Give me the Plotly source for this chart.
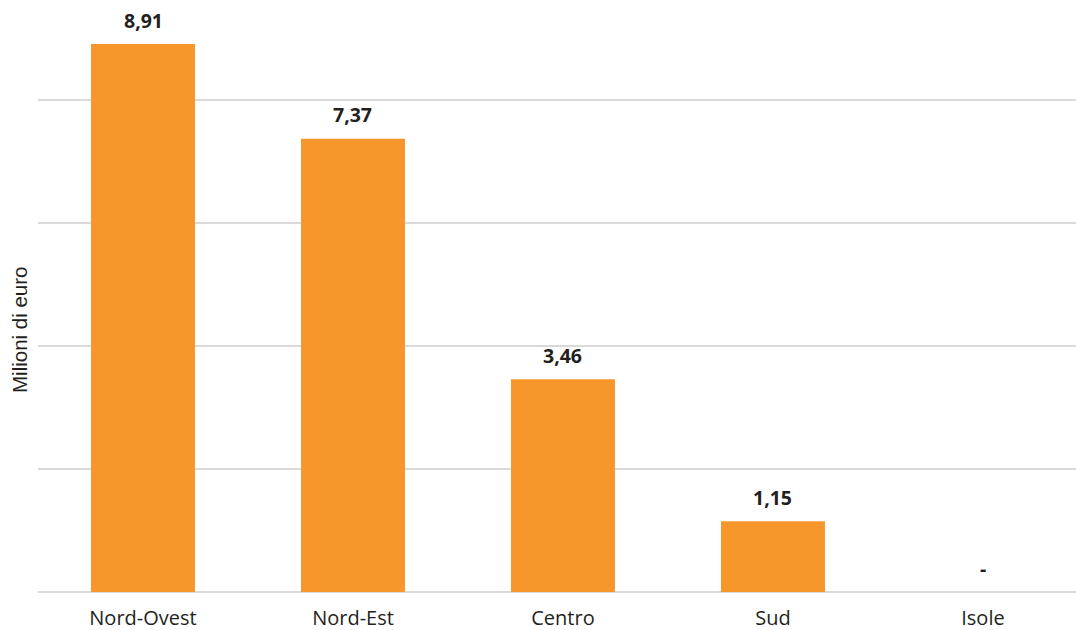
import plotly.graph_objects as go

categories = ["Nord-Ovest", "Nord-Est", "Centro", "Sud", "Isole"]
values = [8.91, 7.37, 3.46, 1.15, 0.0]
value_labels = ["8,91", "7,37", "3,46", "1,15", "-"]
y_title = "Milioni di euro"

BAR_COLOR = "#F7962A"
GRID_COLOR = "#D9D9D9"
TEXT_COLOR = "#231F20"
LABEL_SHIFT = 24

fig = go.Figure()
fig.add_trace(go.Bar(
    x=categories,
    y=values,
    marker=dict(color=BAR_COLOR, line=dict(width=0)),
    hoverinfo="skip",
))

for cat, val, lab in zip(categories, values, value_labels):
    fig.add_annotation(
        x=cat, y=val, text=lab, showarrow=False,
        yanchor="middle", yshift=LABEL_SHIFT,
        font=dict(family="Open Sans", size=19.5, color=TEXT_COLOR, weight="bold"),
    )

# y-axis title placed as a rotated annotation (centred lower than the plot middle)
fig.add_annotation(
    xref="paper", yref="paper", x=0, y=0.4426, xshift=-18,
    text=y_title, textangle=-90, showarrow=False,
    xanchor="center", yanchor="middle",
    font=dict(family="Liberation Sans", size=20.5, color=TEXT_COLOR),
)

fig.update_layout(
    width=1076, height=630,
    margin=dict(l=38, r=0, t=0, b=38),
    paper_bgcolor="white", plot_bgcolor="white",
    bargap=0.505,
    showlegend=False,
    xaxis=dict(
        range=[-0.5, 4.443],
        showgrid=False, showline=False, zeroline=False, ticks="",
        tickfont=dict(family="Open Sans", size=20, color=TEXT_COLOR),
        ticklabelstandoff=12,
        automargin=False,
    ),
    yaxis=dict(
        range=[0, 9.626],
        tickvals=[0, 2, 4, 6, 8],
        showticklabels=False,
        showgrid=True, gridcolor=GRID_COLOR, gridwidth=2,
        zeroline=True, zerolinecolor=GRID_COLOR, zerolinewidth=2,
        showline=False, ticks="",
        automargin=False,
    ),
)

fig.write_html("out.html", config={"displayModeBar": False},
               post_script="document.body.style.margin='0';")
